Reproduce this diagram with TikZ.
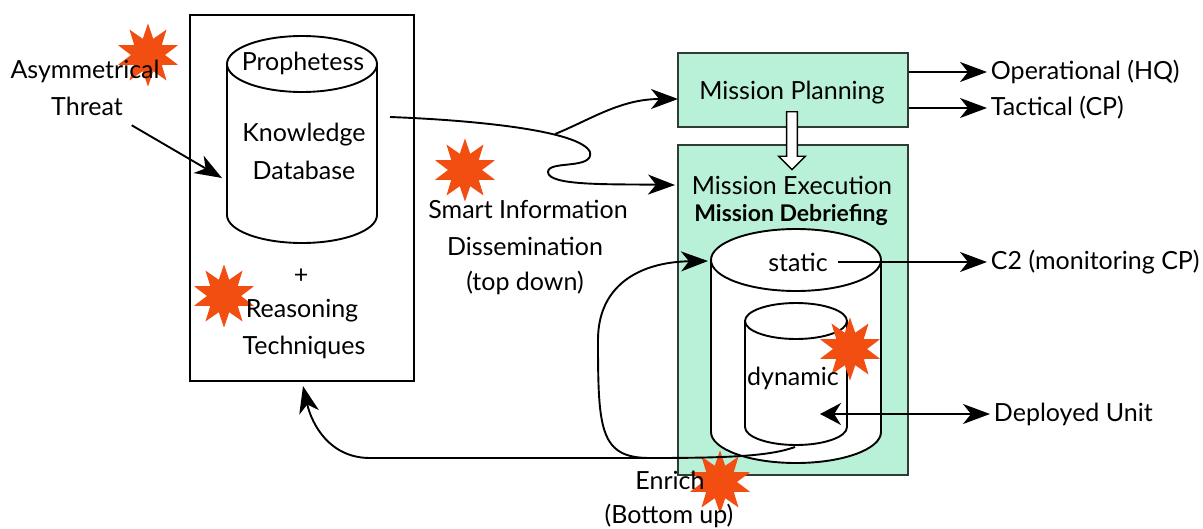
\documentclass[tikz,border=0pt]{standalone}
\usepackage{fontspec}
\setmainfont{Lato}
\usetikzlibrary{arrows.meta,shapes.geometric,shapes.arrows}
\definecolor{mintbox}{HTML}{B9F1D8}
\definecolor{burst}{HTML}{F24E12}
% name, x, y, half width, top, bottom, ellipse height
\newcommand{\drum}[7]{
    \node at (#2,#3) (#1) [minimum width=2*#4 pt,minimum height=#6 pt-#5 pt,inner sep=0pt] {};
    \draw[fill=white] (#2,#6-#7) ellipse [x radius=#4,y radius=#7];
    \fill[white] (#2-#4,#5+#7) rectangle (#2+#4,#6-#7);
    \draw (#2-#4,#5+#7) -- (#2-#4,#6-#7) (#2+#4,#5+#7) -- (#2+#4,#6-#7);
    \draw[fill=white] (#2,#5+#7) ellipse [x radius=#4,y radius=#7];
}
\begin{document}
\begin{tikzpicture}[x=1pt,y=-1pt]
    \tikzstyle{every path}=[line width=1.9pt];
    \tikzstyle{lbl}=[font=\fontsize{25}{28}\selectfont,inner sep=3pt];
    \tikzstyle{panel}=[draw,line width=2.2pt,inner sep=0pt];
    \tikzstyle{greenpanel}=[panel,fill=mintbox,draw=black!75!mintbox];
    \tikzstyle{burststar}=[fill=burst,shape=star,star points=10,star point ratio=1.85,minimum size=63pt,inner sep=0pt];
    \tikzstyle{flow}=[-{Stealth[length=27pt,width=20pt,inset=8pt]}];
    \useasboundingbox (0,0) rectangle (1203,528);

    \node at (302,198) (kbox) [panel,minimum width=224pt,minimum height=366pt] {};
    \node at (793,90)  (plan) [greenpanel,minimum width=230pt,minimum height=74pt] {};
    \node at (793,310) (exec) [greenpanel,minimum width=230pt,minimum height=330pt] {};

    \drum{kdb}{302}{140}{75}{36}{243}{28}
    \drum{stat}{796}{346}{85}{229}{463}{31}
    \drum{dyn}{796}{374}{51}{303}{445}{18}

    \node at (148,55)  (s1) [burststar] {};
    \node at (465,170) (s2) [burststar] {};
    \node at (224,296) (s3) [burststar] {};
    \node at (850,349) (s4) [burststar] {};
    \node at (720,482) (s5) [burststar] {};

    \node at (85,71)   (asym)  [lbl] {Asymmetrical};
    \node at (87,106)  (threat)[lbl] {Threat};
    \node at (303,63)  (proph) [lbl] {Prophetess};
    \node at (304,135) (know)  [lbl] {Knowledge};
    \node at (304,170) (data)  [lbl] {Database};
    \node at (301,276) (plus)  [lbl] {+};
    \node at (302,311) (reas)  [lbl] {Reasoning};
    \node at (304,347) (tech)  [lbl] {Techniques};
    \node at (528,209) (smart) [lbl] {Smart Information};
    \node at (525,246) (diss)  [lbl] {Dissemination};
    \node at (525,283) (topd)  [lbl] {(top down)};
    \node at (792,93)  (plant) [lbl] {Mission Planning};
    \node at (792,185) (exect) [lbl] {Mission Execution};
    \node at (791,215) (debr)  [lbl,font=\fontsize{23}{26}\selectfont\bfseries] {Mission Debriefing};
    \node at (798,262) (statt) [lbl] {static};
    \node at (793,378) (dynt)  [lbl] {dynamic};
    \node at (670,480) (enr)   [lbl] {Enrich};
    \node at (669,516) (bott)  [lbl] {(Bottom up)};
    \node at (987,72)  (oper)  [lbl,anchor=west] {Operational (HQ)};
    \node at (987,108) (tact)  [lbl,anchor=west] {Tactical (CP)};
    \node at (987,262) (ctwo)  [lbl,anchor=west] {C2 (monitoring CP)};
    \node at (990,414) (depl)  [lbl,anchor=west] {Deployed Unit};

    \node at (792,138) (drop) [draw,fill=white,line width=1.4pt,shape=single arrow,rotate=-90,minimum width=27pt,minimum height=58pt,single arrow head extend=5.5pt,single arrow head indent=0pt,inner sep=3pt] {};

    \coordinate (kout) at (390,117);
    \coordinate (fork) at (555,134);
    \coordinate (join) at (795,447);
    \coordinate (turn) at (650,458);
    \coordinate (dynin) at (820,414);
    \coordinate (statout) at (838,262);

    \draw[flow] (threat.south east) ++(5,6) to (222,178);
    \draw[flow] (kout) .. controls (470,120) and (580,130) .. (590,152) .. controls (594,170) and (548,160) .. (548,172) .. controls (548,186) and (610,184) .. (675,185);
    \draw[flow] (fork) .. controls (590,120) and (620,99) .. (678,99);
    \draw[flow] (join) .. controls (770,456) and (730,458) .. (turn) -- (370,458) .. controls (330,458) and (312,425) .. (303,386);
    \draw[flow] (turn) .. controls (600,458) and (598,430) .. (598,340) .. controls (598,285) and (640,262) .. (708,261);
    \draw[flow] (plan.east |- oper) to (oper);
    \draw[flow] (plan.east |- tact) to (tact);
    \draw[flow] (statout) to (ctwo);
    \draw[{Stealth[length=21pt,width=22pt]}-{Stealth[length=27pt,width=20pt,inset=8pt]}] (dynin) to (depl);
\end{tikzpicture}
\end{document}
